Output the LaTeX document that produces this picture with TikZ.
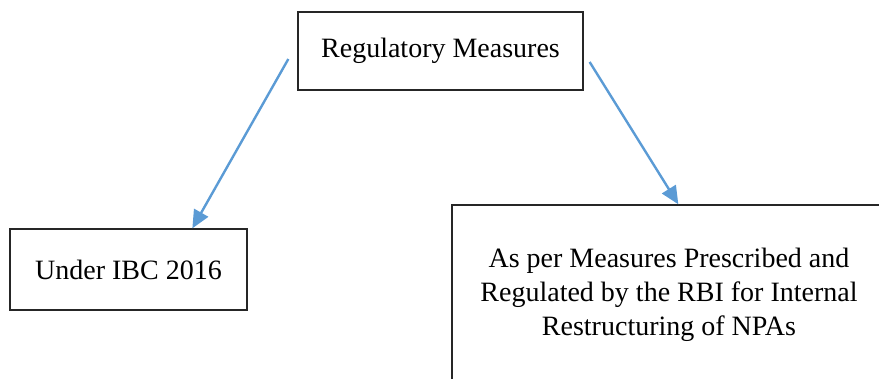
\documentclass[tikz,border=0pt]{standalone}
\usepackage{fontspec}
\setmainfont{Liberation Serif}
\usetikzlibrary{arrows.meta}

\definecolor{arrowblue}{HTML}{5B9BD5}

\begin{document}
\begin{tikzpicture}[x=0.5pt, y=-0.5pt,
    box/.style={draw=black!85, line width=0.65pt, align=center,
        font=\fontsize{14pt}{17pt}\selectfont, inner sep=0pt},
    link/.style={draw=arrowblue, line width=1.2pt,
        -{Triangle[length=9pt, width=8pt]}}]
    % Page (pixel grid of the reference, y downwards; sizes are half the pixels in pt)
    \useasboundingbox (0,0) rectangle (879,379);

    % Boxes
    \node[box, minimum width=142.5pt, minimum height=39pt] (measures) at (440.5,51) {Regulatory Measures};
    \node[box, minimum width=118.5pt, minimum height=40.5pt] (ibc) at (128.5,269.5) {Under IBC 2016};
    \node[box, minimum width=217pt, minimum height=90pt] (rbi) at (669,295)
        {As per Measures Prescribed and\\Regulated by the RBI for Internal\\Restructuring of NPAs};

    % Arrow ends
    \coordinate (fromleft) at ([shift={(-9,8)}]measures.west);
    \coordinate (toibc) at ([shift={(183,0)}]ibc.north west);
    \coordinate (fromright) at ([shift={(6,11)}]measures.east);
    \coordinate (torbi) at ([shift={(227,0)}]rbi.north west);

    % Arrows
    \draw[link] (fromleft) -- (toibc);
    \draw[link] (fromright) -- (torbi);
\end{tikzpicture}
\end{document}
